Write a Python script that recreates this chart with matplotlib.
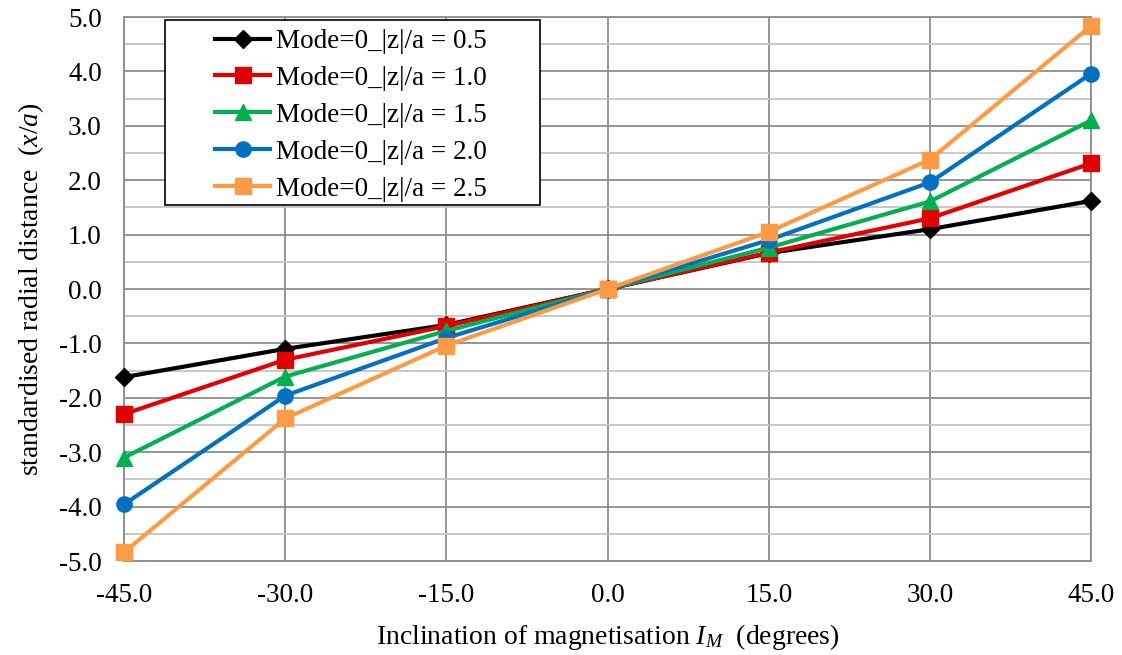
import matplotlib.pyplot as plt
from matplotlib.patches import Rectangle
from matplotlib.ticker import MultipleLocator, FormatStrFormatter

plt.rcParams['font.family'] = 'Liberation Serif'
plt.rcParams['mathtext.fontset'] = 'custom'
plt.rcParams['mathtext.rm'] = 'Liberation Serif'
plt.rcParams['mathtext.it'] = 'Liberation Serif:italic'
plt.rcParams['axes.unicode_minus'] = False

# inclination angles (degrees)
inclination = [-45, -30, -15, 0, 15, 30, 45]

# standardised radial distance per |z|/a
z05 = [-1.62, -1.10, -0.66, 0.0, 0.66, 1.10, 1.62]
z10 = [-2.30, -1.30, -0.68, 0.0, 0.67, 1.30, 2.31]
z15 = [-3.10, -1.61, -0.77, 0.0, 0.76, 1.61, 3.10]
z20 = [-3.96, -1.96, -0.90, 0.0, 0.90, 1.96, 3.96]
z25 = [-4.84, -2.38, -1.04, 0.0, 1.05, 2.38, 4.84]

series = [
    ('Mode=0_|z|/a = 0.5', z05, 'black', 'D', 9),
    ('Mode=0_|z|/a = 1.0', z10, '#E00000', 's', 11.5),
    ('Mode=0_|z|/a = 1.5', z15, '#00B050', '^', 11.5),
    ('Mode=0_|z|/a = 2.0', z20, '#0070C0', 'o', 11),
    ('Mode=0_|z|/a = 2.5', z25, '#FF9B45', 's', 11.5),
]

fig = plt.figure(figsize=(11.22, 6.55), dpi=100)
ax = fig.add_axes([0.1105, 0.1435, 0.862, 0.8305])

for label, vals, color, marker, ms in series:
    ax.plot(inclination, vals, color=color, marker=marker, markersize=ms,
            linewidth=3, label=label, clip_on=False, zorder=3)

ax.set_xlim(-45, 45)
ax.set_ylim(-5, 5)
ax.xaxis.set_major_locator(MultipleLocator(15))
ax.yaxis.set_major_locator(MultipleLocator(1))
ax.yaxis.set_minor_locator(MultipleLocator(0.5))
ax.xaxis.set_major_formatter(FormatStrFormatter('%.1f'))
ax.yaxis.set_major_formatter(FormatStrFormatter('%.1f'))

ax.grid(True, which='major', color='#8c8c8c', linewidth=1.3, zorder=0)
ax.grid(True, which='minor', axis='y', color='#c4c4c4', linewidth=1.3, zorder=0)
ax.set_axisbelow(True)
for s in ax.spines.values():
    s.set_color('#8c8c8c')
    s.set_linewidth(1.3)
ax.tick_params(which='both', length=0, labelsize=19.5)
ax.tick_params(axis='x', pad=16)
ax.tick_params(axis='y', pad=16)

ax.set_xlabel(r'Inclination of magnetisation $I_M$  (degrees)', fontsize=20, labelpad=10)
ax.set_ylabel(r'standardised radial distance  ($x/a$)', fontsize=20, labelpad=9)

# legend box drawn separately so it can be wider than its contents
ax.add_patch(Rectangle((0.0424, 0.654), 0.3878, 0.3405, transform=ax.transAxes,
                       facecolor='white', edgecolor='black', linewidth=1.2,
                       zorder=4, clip_on=False))
leg = ax.legend(loc='upper left', bbox_to_anchor=(0.094, 0.978), fontsize=19.5,
                frameon=False, handlelength=2.05, handletextpad=0.2,
                labelspacing=0.44, borderpad=0, borderaxespad=0)
leg.set_zorder(5)

fig.savefig('out.png', dpi=100)
